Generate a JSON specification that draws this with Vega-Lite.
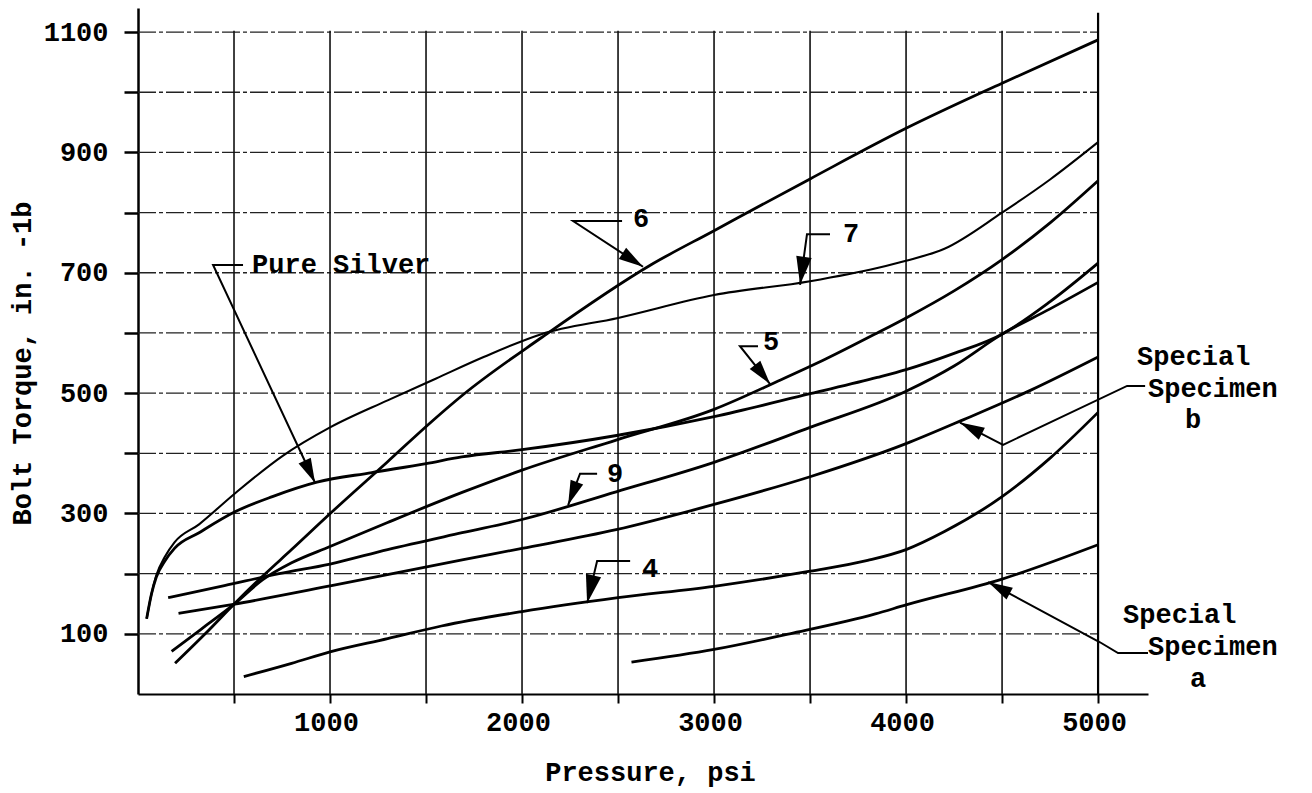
{
  "$schema": "https://vega.github.io/schema/vega-lite/v6.json",
  "width": 1010,
  "height": 686,
  "autosize": {"type": "none"},
  "padding": {"left": 138, "top": 8, "right": 164, "bottom": 99},
  "background": "white",
  "config": {
    "view": {"stroke": null},
    "font": "Liberation Mono",
    "axis": {
      "grid": false, "domainColor": "#000", "tickColor": "#000", "labelColor": "#000", "titleColor": "#000",
      "labelFont": "Liberation Mono", "titleFont": "Liberation Mono", "labelFontSize": 27, "titleFontSize": 27,
      "labelFontWeight": "bold", "titleFontWeight": "bold", "labelOverlap": false, "labelFlush": false
    },
    "axisX": {"domainWidth": 2, "tickWidth": 2, "tickSize": 9, "labelPadding": 6, "labelOffset": -4},
    "axisY": {"domainWidth": 2.5, "tickWidth": 2.5, "tickSize": 14, "labelPadding": 16}
  },
  "datasets": {
    "curves": [
      {"c": "PS", "x": 45, "y": 125}, {"c": "PS", "x": 70, "y": 166}, {"c": "PS", "x": 95, "y": 194}, {"c": "PS", "x": 140, "y": 221}, {"c": "PS", "x": 190, "y": 242}, {"c": "PS", "x": 318, "y": 268}, {"c": "PS", "x": 500, "y": 302}, {"c": "PS", "x": 700, "y": 328}, {"c": "PS", "x": 932, "y": 352}, {"c": "PS", "x": 1218, "y": 368}, {"c": "PS", "x": 1500, "y": 383}, {"c": "PS", "x": 1686, "y": 394}, {"c": "PS", "x": 2000, "y": 406}, {"c": "PS", "x": 2500, "y": 430}, {"c": "PS", "x": 3000, "y": 461}, {"c": "PS", "x": 3500, "y": 499}, {"c": "PS", "x": 3850, "y": 526}, {"c": "PS", "x": 4000, "y": 539}, {"c": "PS", "x": 4250, "y": 566}, {"c": "PS", "x": 4500, "y": 598}, {"c": "PS", "x": 4750, "y": 652}, {"c": "PS", "x": 5000, "y": 716},
      {"c": "7", "x": 45, "y": 125}, {"c": "7", "x": 68, "y": 163}, {"c": "7", "x": 95, "y": 197}, {"c": "7", "x": 140, "y": 228}, {"c": "7", "x": 190, "y": 252}, {"c": "7", "x": 318, "y": 282}, {"c": "7", "x": 500, "y": 332}, {"c": "7", "x": 750, "y": 395}, {"c": "7", "x": 1000, "y": 443}, {"c": "7", "x": 1300, "y": 488}, {"c": "7", "x": 1550, "y": 524}, {"c": "7", "x": 1800, "y": 560}, {"c": "7", "x": 2100, "y": 598}, {"c": "7", "x": 2500, "y": 625}, {"c": "7", "x": 3000, "y": 663}, {"c": "7", "x": 3500, "y": 686}, {"c": "7", "x": 3850, "y": 708}, {"c": "7", "x": 4000, "y": 720}, {"c": "7", "x": 4200, "y": 740}, {"c": "7", "x": 4500, "y": 800}, {"c": "7", "x": 4750, "y": 855}, {"c": "7", "x": 5000, "y": 917},
      {"c": "5", "x": 175, "y": 71}, {"c": "5", "x": 330, "y": 108}, {"c": "5", "x": 496, "y": 148}, {"c": "5", "x": 650, "y": 190}, {"c": "5", "x": 800, "y": 218}, {"c": "5", "x": 1000, "y": 245}, {"c": "5", "x": 1300, "y": 285}, {"c": "5", "x": 1688, "y": 335}, {"c": "5", "x": 2000, "y": 372}, {"c": "5", "x": 2490, "y": 422}, {"c": "5", "x": 3000, "y": 473}, {"c": "5", "x": 3334, "y": 520}, {"c": "5", "x": 3584, "y": 557}, {"c": "5", "x": 3850, "y": 600}, {"c": "5", "x": 4000, "y": 625}, {"c": "5", "x": 4250, "y": 670}, {"c": "5", "x": 4500, "y": 722}, {"c": "5", "x": 4750, "y": 783}, {"c": "5", "x": 5000, "y": 853},
      {"c": "6", "x": 193, "y": 51}, {"c": "6", "x": 350, "y": 100}, {"c": "6", "x": 496, "y": 148}, {"c": "6", "x": 650, "y": 196}, {"c": "6", "x": 800, "y": 240}, {"c": "6", "x": 1008, "y": 302}, {"c": "6", "x": 1300, "y": 386}, {"c": "6", "x": 1527, "y": 452}, {"c": "6", "x": 1688, "y": 496}, {"c": "6", "x": 2100, "y": 592}, {"c": "6", "x": 2670, "y": 713}, {"c": "6", "x": 3000, "y": 770}, {"c": "6", "x": 3500, "y": 856}, {"c": "6", "x": 4000, "y": 940}, {"c": "6", "x": 4500, "y": 1015}, {"c": "6", "x": 5000, "y": 1087},
      {"c": "9", "x": 157, "y": 160}, {"c": "9", "x": 450, "y": 180}, {"c": "9", "x": 735, "y": 200}, {"c": "9", "x": 1000, "y": 216}, {"c": "9", "x": 1300, "y": 240}, {"c": "9", "x": 1688, "y": 268}, {"c": "9", "x": 2000, "y": 290}, {"c": "9", "x": 2490, "y": 336}, {"c": "9", "x": 3000, "y": 385}, {"c": "9", "x": 3500, "y": 443}, {"c": "9", "x": 4000, "y": 503}, {"c": "9", "x": 4250, "y": 545}, {"c": "9", "x": 4500, "y": 598}, {"c": "9", "x": 4750, "y": 640}, {"c": "9", "x": 5000, "y": 684},
      {"c": "Sb", "x": 211, "y": 134}, {"c": "Sb", "x": 496, "y": 149}, {"c": "Sb", "x": 1008, "y": 180}, {"c": "Sb", "x": 1688, "y": 223}, {"c": "Sb", "x": 2000, "y": 242}, {"c": "Sb", "x": 2490, "y": 273}, {"c": "Sb", "x": 3000, "y": 315}, {"c": "Sb", "x": 3500, "y": 361}, {"c": "Sb", "x": 4000, "y": 416}, {"c": "Sb", "x": 4300, "y": 456}, {"c": "Sb", "x": 4650, "y": 505}, {"c": "Sb", "x": 5000, "y": 560},
      {"c": "4", "x": 551, "y": 29}, {"c": "4", "x": 800, "y": 51}, {"c": "4", "x": 1000, "y": 70}, {"c": "4", "x": 1300, "y": 92}, {"c": "4", "x": 1580, "y": 113}, {"c": "4", "x": 2000, "y": 137}, {"c": "4", "x": 2500, "y": 160}, {"c": "4", "x": 3000, "y": 179}, {"c": "4", "x": 3500, "y": 204}, {"c": "4", "x": 3800, "y": 222}, {"c": "4", "x": 4000, "y": 240}, {"c": "4", "x": 4200, "y": 270}, {"c": "4", "x": 4500, "y": 328}, {"c": "4", "x": 4750, "y": 392}, {"c": "4", "x": 5000, "y": 468},
      {"c": "Sa", "x": 2570, "y": 53}, {"c": "Sa", "x": 3000, "y": 74}, {"c": "Sa", "x": 3394, "y": 100}, {"c": "Sa", "x": 3840, "y": 133}, {"c": "Sa", "x": 4000, "y": 148}, {"c": "Sa", "x": 4500, "y": 191}, {"c": "Sa", "x": 5000, "y": 248}
    ],
    "hgrid": [{"v": 100}, {"v": 200}, {"v": 300}, {"v": 400}, {"v": 500}, {"v": 600}, {"v": 700}, {"v": 800}, {"v": 900}, {"v": 1000}, {"v": 1100}],
    "vgrid": [{"v": 500}, {"v": 1000}, {"v": 1500}, {"v": 2000}, {"v": 2500}, {"v": 3000}, {"v": 3500}, {"v": 4000}, {"v": 4500}],
    "border": [{"v": 5000}],
    "leaders": [
      {"id": "PS", "s": 1, "x": 547, "y": 713}, {"id": "PS", "s": 2, "x": 391, "y": 713}, {"id": "PS", "s": 3, "x": 922, "y": 351},
      {"id": "6", "s": 1, "x": 2521, "y": 786}, {"id": "6", "s": 2, "x": 2266, "y": 786}, {"id": "6", "s": 3, "x": 2630, "y": 710},
      {"id": "7", "s": 1, "x": 3604, "y": 764}, {"id": "7", "s": 2, "x": 3484, "y": 764}, {"id": "7", "s": 3, "x": 3448, "y": 680},
      {"id": "5", "s": 1, "x": 3229, "y": 578}, {"id": "5", "s": 2, "x": 3135, "y": 578}, {"id": "5", "s": 3, "x": 3292, "y": 515},
      {"id": "9", "s": 1, "x": 2391, "y": 366}, {"id": "9", "s": 2, "x": 2302, "y": 366}, {"id": "9", "s": 3, "x": 2240, "y": 314},
      {"id": "4", "s": 1, "x": 2563, "y": 221}, {"id": "4", "s": 2, "x": 2391, "y": 221}, {"id": "4", "s": 3, "x": 2339, "y": 151},
      {"id": "Sb", "s": 1, "x": 5245, "y": 512}, {"id": "Sb", "s": 2, "x": 5151, "y": 512}, {"id": "Sb", "s": 3, "x": 4505, "y": 414}, {"id": "Sb", "s": 4, "x": 4281, "y": 451},
      {"id": "Sa", "s": 1, "x": 5260, "y": 68}, {"id": "Sa", "s": 2, "x": 5104, "y": 68}, {"id": "Sa", "s": 3, "x": 5010, "y": 86}, {"id": "Sa", "s": 4, "x": 4427, "y": 186}
    ],
    "tips": [
      {"id": "PS", "x": 922, "y": 351}, {"id": "6", "x": 2630, "y": 710}, {"id": "7", "x": 3448, "y": 680}, {"id": "5", "x": 3292, "y": 515},
      {"id": "9", "x": 2240, "y": 314}, {"id": "4", "x": 2339, "y": 151}, {"id": "Sb", "x": 4281, "y": 451}, {"id": "Sa", "x": 4427, "y": 186}
    ],
    "labels": [
      {"txt": "Pure Silver", "x": 594, "y": 700},
      {"txt": "6", "x": 2578, "y": 776},
      {"txt": "7", "x": 3672, "y": 751},
      {"txt": "5", "x": 3255, "y": 572},
      {"txt": "9", "x": 2443, "y": 352},
      {"txt": "4", "x": 2625, "y": 194},
      {"txt": "Special", "x": 5203, "y": 547},
      {"txt": "Specimen", "x": 5260, "y": 494},
      {"txt": "b", "x": 5453, "y": 442},
      {"txt": "Special", "x": 5130, "y": 118},
      {"txt": "Specimen", "x": 5260, "y": 65},
      {"txt": "a", "x": 5479, "y": 12}
    ]
  },
  "layer": [
    {
      "data": {"name": "hgrid"},
      "mark": {"type": "rule", "color": "#222", "strokeWidth": 1.3, "strokeDash": [18, 3, 4, 3]},
      "encoding": {
        "y": {"field": "v", "type": "quantitative", "scale": {"domain": [0, 1140], "nice": false, "zero": false}},
        "x": {"datum": 0, "type": "quantitative", "scale": {"domain": [0, 5260], "nice": false, "zero": false}},
        "x2": {"datum": 5000}
      }
    },
    {
      "data": {"name": "vgrid"},
      "mark": {"type": "rule", "color": "#111", "strokeWidth": 1.6},
      "encoding": {
        "x": {"field": "v", "type": "quantitative", "scale": {"domain": [0, 5260], "nice": false, "zero": false}},
        "y": {"datum": 0, "type": "quantitative", "scale": {"domain": [0, 1140], "nice": false, "zero": false}},
        "y2": {"datum": 1102}
      }
    },
    {
      "data": {"name": "border"},
      "mark": {"type": "rule", "color": "#000", "strokeWidth": 2.2},
      "encoding": {
        "x": {"field": "v", "type": "quantitative", "scale": {"domain": [0, 5260], "nice": false, "zero": false}},
        "y": {"datum": 0, "type": "quantitative", "scale": {"domain": [0, 1140], "nice": false, "zero": false}},
        "y2": {"datum": 1132}
      }
    },
    {
      "data": {"name": "curves"},
      "transform": [{"filter": "datum.c !== '7'"}],
      "mark": {"type": "line", "color": "#000", "strokeWidth": 2.8, "interpolate": "monotone"},
      "encoding": {
        "x": {
          "field": "x", "type": "quantitative",
          "scale": {"domain": [0, 5260], "nice": false, "zero": false},
          "axis": {
            "values": [500, 1000, 1500, 2000, 2500, 3000, 3500, 4000, 4500, 5000],
            "format": "d",
            "labelExpr": "datum.value % 1000 === 0 ? datum.label : ''",
            "title": "Pressure, psi",
            "titleX": 512, "titleY": 86, "titleBaseline": "alphabetic", "titleAlign": "center"
          }
        },
        "y": {
          "field": "y", "type": "quantitative",
          "scale": {"domain": [0, 1140], "nice": false, "zero": false},
          "axis": {
            "values": [100, 200, 300, 400, 500, 600, 700, 800, 900, 1000, 1100],
            "format": "d",
            "labelExpr": "datum.value % 200 === 100 ? datum.label : ''",
            "title": "Bolt Torque, in. -1b",
            "titleX": -116, "titleY": 355, "titleAngle": -90, "titleBaseline": "middle", "titleAlign": "center"
          }
        },
        "detail": {"field": "c"}
      }
    },
    {
      "data": {"name": "curves"},
      "transform": [{"filter": "datum.c === '7'"}],
      "mark": {"type": "line", "color": "#000", "strokeWidth": 2.1, "interpolate": "monotone"},
      "encoding": {
        "x": {"field": "x", "type": "quantitative", "scale": {"domain": [0, 5260], "nice": false, "zero": false}},
        "y": {"field": "y", "type": "quantitative", "scale": {"domain": [0, 1140], "nice": false, "zero": false}}
      }
    },
    {
      "data": {"name": "leaders"},
      "mark": {"type": "line", "color": "#000", "strokeWidth": 2},
      "encoding": {
        "x": {"field": "x", "type": "quantitative", "scale": {"domain": [0, 5260], "nice": false, "zero": false}},
        "y": {"field": "y", "type": "quantitative", "scale": {"domain": [0, 1140], "nice": false, "zero": false}},
        "detail": {"field": "id"},
        "order": {"field": "s"}
      }
    },
    {
      "data": {"name": "tips"},
      "layer": [
        {"transform": [{"filter": "datum.id === 'PS'"}], "mark": {"type": "point", "shape": "M0,0L0.55,2L-0.55,2Z", "filled": true, "color": "#000", "opacity": 1, "size": 600, "angle": 155}},
        {"transform": [{"filter": "datum.id === '6'"}], "mark": {"type": "point", "shape": "M0,0L0.55,2L-0.55,2Z", "filled": true, "color": "#000", "opacity": 1, "size": 600, "angle": 123}},
        {"transform": [{"filter": "datum.id === '7'"}], "mark": {"type": "point", "shape": "M0,0L0.55,2L-0.55,2Z", "filled": true, "color": "#000", "opacity": 1, "size": 800, "angle": 188}},
        {"transform": [{"filter": "datum.id === '5'"}], "mark": {"type": "point", "shape": "M0,0L0.55,2L-0.55,2Z", "filled": true, "color": "#000", "opacity": 1, "size": 600, "angle": 142}},
        {"transform": [{"filter": "datum.id === '9'"}], "mark": {"type": "point", "shape": "M0,0L0.55,2L-0.55,2Z", "filled": true, "color": "#000", "opacity": 1, "size": 600, "angle": 201}},
        {"transform": [{"filter": "datum.id === '4'"}], "mark": {"type": "point", "shape": "M0,0L0.55,2L-0.55,2Z", "filled": true, "color": "#000", "opacity": 1, "size": 800, "angle": 193}},
        {"transform": [{"filter": "datum.id === 'Sb'"}], "mark": {"type": "point", "shape": "M0,0L0.55,2L-0.55,2Z", "filled": true, "color": "#000", "opacity": 1, "size": 600, "angle": 297}},
        {"transform": [{"filter": "datum.id === 'Sa'"}], "mark": {"type": "point", "shape": "M0,0L0.55,2L-0.55,2Z", "filled": true, "color": "#000", "opacity": 1, "size": 600, "angle": 298}}
      ],
      "encoding": {
        "x": {"field": "x", "type": "quantitative", "scale": {"domain": [0, 5260], "nice": false, "zero": false}},
        "y": {"field": "y", "type": "quantitative", "scale": {"domain": [0, 1140], "nice": false, "zero": false}}
      }
    },
    {
      "data": {"name": "labels"},
      "mark": {"type": "text", "align": "left", "baseline": "alphabetic", "font": "Liberation Mono", "fontSize": 27, "fontWeight": "bold", "color": "#000"},
      "encoding": {
        "x": {"field": "x", "type": "quantitative", "scale": {"domain": [0, 5260], "nice": false, "zero": false}},
        "y": {"field": "y", "type": "quantitative", "scale": {"domain": [0, 1140], "nice": false, "zero": false}},
        "text": {"field": "txt"}
      }
    }
  ]
}
